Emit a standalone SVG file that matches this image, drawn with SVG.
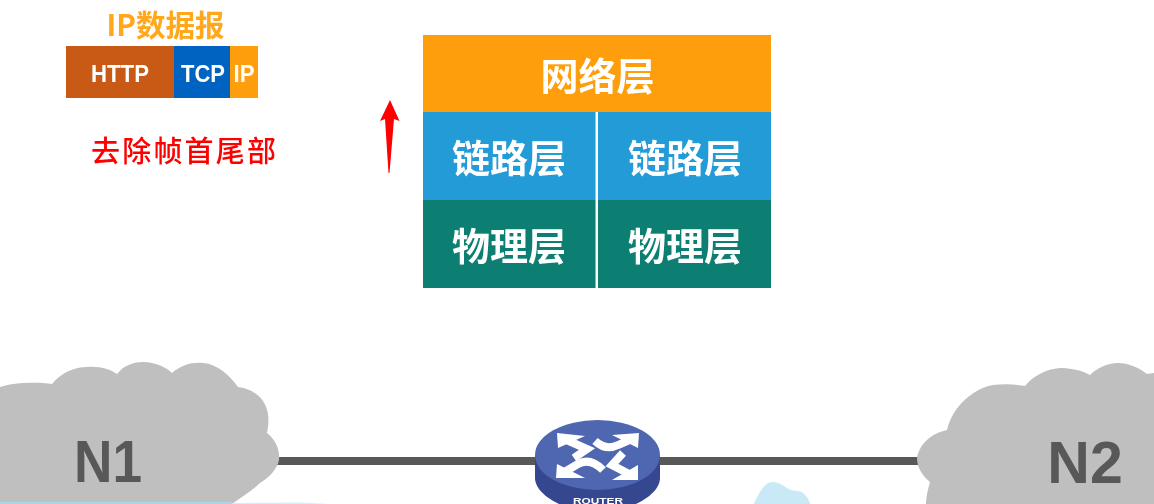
<svg xmlns="http://www.w3.org/2000/svg" width="1154" height="504" viewBox="0 0 1154 504">
<defs>
<style>
.cjk{font-family:"Noto Sans CJK SC","Noto Sans",sans-serif;font-weight:700;text-anchor:middle;fill:#fff}
.lat{font-family:"Liberation Sans",Arial,sans-serif;font-weight:700;text-anchor:middle;fill:#fff}
.layer{font-size:38px}
.pkt{font-size:24px}
.cloud{fill:#bfbfbf}
.net{font-family:"Liberation Sans",Arial,sans-serif;font-weight:700;font-size:59px;fill:#595959;text-anchor:middle}
.link{stroke:#595959;stroke-width:8;fill:none}
.shaft{fill:none;stroke:#fff;stroke-width:8}
.head{fill:#fff}
</style>
<filter id="soft" x="0" y="0" width="100%" height="100%"><feGaussianBlur stdDeviation="0.6"/></filter>
</defs>
<rect width="1154" height="504" fill="#fff"/>
<g filter="url(#soft)">
<g id="packet">
<text class="cjk" x="165.500" y="36" font-size="29.500" style="fill:#ffa81e">IP数据报</text>
<rect x="66" y="46" width="108" height="52" fill="#c85a14"/>
<rect x="174" y="46" width="56" height="52" fill="#0563c1"/>
<rect x="230" y="46" width="28" height="52" fill="#ff9e0c"/>
<text class="lat pkt" x="120" y="81.500" textLength="58" lengthAdjust="spacingAndGlyphs">HTTP</text>
<text class="lat pkt" x="203" y="81.500" textLength="44" lengthAdjust="spacingAndGlyphs">TCP</text>
<text class="lat pkt" x="244" y="81.500" textLength="21" lengthAdjust="spacingAndGlyphs">IP</text>
</g>
<g id="note">
<text x="91" y="162" font-size="29" letter-spacing="2.200" font-weight="500" fill="#ff0000" font-family="'Noto Sans CJK SC','Liberation Serif',serif">去除帧首尾部</text>
</g>
<g id="up-arrow">
<path d="M390,100 L399.500,121 L394,119 L389.500,173 L388.500,173 L385,119 L380,121Z" fill="#ff0000"/>
</g>
<g id="layer-network">
<rect x="423" y="35" width="348" height="77" fill="#ff9e0c"/>
<text class="cjk layer" x="597.500" y="90">网络层</text>
</g>
<g id="layer-link-left">
<rect x="423" y="112" width="172.500" height="88" fill="#229bd6"/>
<text class="cjk layer" x="509" y="172">链路层</text>
</g>
<g id="layer-link-right">
<rect x="598" y="112" width="173" height="88" fill="#229bd6"/>
<text class="cjk layer" x="685" y="172">链路层</text>
</g>
<g id="layer-phys-left">
<rect x="423" y="200" width="172.500" height="88" fill="#0c7f72"/>
<text class="cjk layer" x="509" y="260">物理层</text>
</g>
<g id="layer-phys-right">
<rect x="598" y="200" width="173" height="88" fill="#0c7f72"/>
<text class="cjk layer" x="685" y="260">物理层</text>
</g>
<g id="connectors">
<line class="link" x1="270" y1="461" x2="545" y2="461"/>
<line class="link" x1="650" y1="461" x2="925" y2="461"/>
</g>
<g id="N1">
<path class="cloud" d="M0,387 C15,382 38,382 52,384 C62,372 75,367 87,367 C100,366 110,369 117,374 C124,365 134,362 143,362 C155,362 166,367 172,373 C181,365 192,362 203,363 C218,364 230,376 238,387 C255,389 266,400 268,414 C269,422 268,428 267,433 C276,440 280,450 279,460 C277,470 268,478 260,483 C252,491 241,497 232,504 L0,504Z"/>
<text class="net" x="108" y="482" textLength="68" lengthAdjust="spacingAndGlyphs">N1</text>
</g>
<g id="N2">
<path class="cloud" d="M1154,373 L1147,374 C1138,367 1128,363 1118,363 C1107,363 1097,368 1090,375 C1081,370 1070,368 1060,368 C1046,369 1033,376 1025,386 C1014,384 1003,384 993,385 C975,388 953,405 947,430 C933,433 920,442 917,458 C917,468 923,476 930,482 C928,489 926,497 926,504 L1154,504Z"/>
<text class="net" x="1085" y="483">N2</text>
</g>
<g id="water">
<path d="M0,502 L232,502 L232,505 L0,505Z" fill="#a9d5e5"/>
<path d="M232,503 L300,502.500 L350,505 L232,505Z" fill="#d5edf6"/>
<path d="M753,505 C760,492 764,482 773,482 C783,482 786,491 797,491 C804,491 808,498 811,505Z" fill="#c9e9f7"/>
</g>
<g id="router">
<path d="M535,456 V478 C535,495 565,512 597.500,512 C630,512 660,495 660,478 V456Z" fill="#36478f"/>
<ellipse cx="597.500" cy="455" rx="62.500" ry="35" fill="#4f66b0"/>
<path class="shaft" d="M562,438 L587,449 L574,458"/>
<path class="head" d="M557,433 L585,436 L558,448Z"/>
<path class="shaft" d="M634,438 L618,445 Q606,451 595,441"/>
<path class="head" d="M639,433 L612,435 L638,448Z"/>
<path class="shaft" d="M561,474 L578,464 Q590,457 603,470"/>
<path class="head" d="M556,478 L557,464 L585,478Z"/>
<path class="shaft" d="M633,476 L612,465 L623,453"/>
<path class="head" d="M638,480 L638,465 L612,480Z"/>
<text class="lat" x="598" y="503.500" font-size="9.500" textLength="50" lengthAdjust="spacingAndGlyphs">ROUTER</text>
</g>
</g>
</svg>
